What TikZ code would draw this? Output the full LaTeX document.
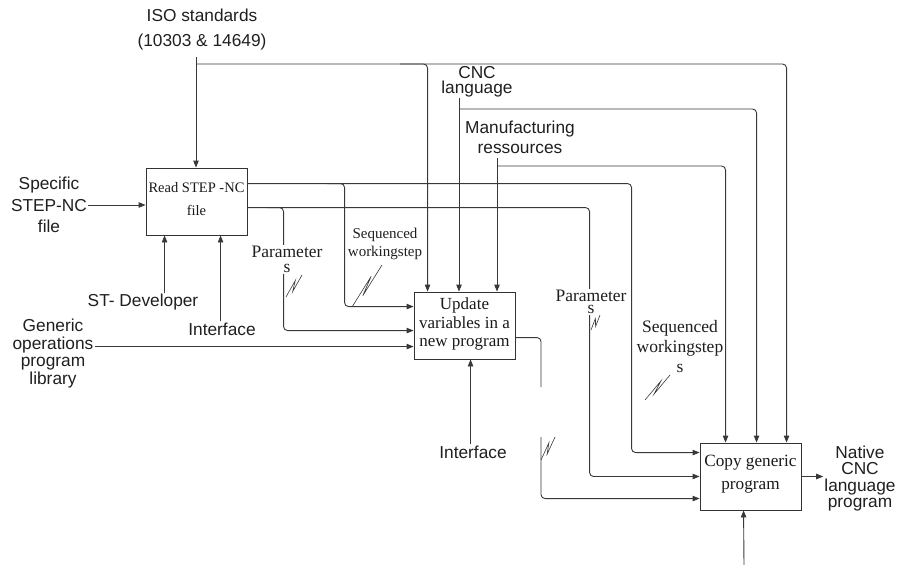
\documentclass[tikz,border=0pt]{standalone}
\usepackage{fontspec}
\setmainfont{Liberation Sans}
\newfontfamily\seriffam{Liberation Serif}
\usetikzlibrary{arrows.meta,calc}
\newcommand{\myzz}[4]{%
  \coordinate (zA) at (#1,#2);
  \coordinate (zB) at (#3,#4);
  \draw[wire, line width=0.6pt] (zA) -- ($(zA)!.7!(zB)!2.2pt!90:(zB)$) -- ($(zA)!.3!(zB)!2.2pt!-90:(zB)$) -- (zB);}
\newcommand{\lowdepth}[1]{\rule[-#1]{0pt}{0pt}}
\begin{document}
\begin{tikzpicture}[x=1pt,y=-1pt,
  wire/.style={draw=black!78, line width=0.9pt},
  arr/.style={wire, -{Triangle[length=7pt,width=5.5pt]}},
  conn/.style={arr, rounded corners=4pt},
  box/.style={draw=black!80, line width=0.9pt, rectangle, minimum width=101pt, minimum height=67pt, inner sep=0pt, align=center, text=black!90},
  sans/.style={align=center, inner sep=1pt, text=black!88, font=\fontsize{17.3}{#1}\selectfont},
  sans/.default=20,
  ser/.style={align=center, inner sep=1pt, text=black!88}
]
\path[use as bounding box] (0,0) rectangle (898,565);

% activity boxes
\node[box, font=\seriffam\fontsize{14.5}{23}\selectfont] (read) at (196.5,201.5) {Read STEP -NC\\file\lowdepth{6pt}};
\node[box, font=\seriffam\fontsize{17}{18.5}\selectfont] (upd) at (464.5,325.5) {Update\\variables in a\\new program\lowdepth{6pt}};
\node[box, font=\seriffam\fontsize{17.2}{23}\selectfont] (copy) at (750.5,476.5) {Copy generic\\program\lowdepth{9pt}};

% sans labels
\node[sans=25] (iso) at (202,29.5) {ISO standards\\(10303 \& 14649)};
\node[sans=15] (cnc) at (477,81.5) {CNC\\language};
\node[sans=20] (manu) at (520,137) {Manufacturing\\ressources};
\node[sans=21.5] (spec) at (49,205) {Specific\\STEP-NC\\file};
\node[sans] (stdev) at (143,302) {ST- Developer};
\node[sans] (intf1) at (222,329) {Interface};
\node[sans=17.7] (gen) at (53,353.5) {Generic\\operations\\program\\library};
\node[sans] (intf2) at (473,452) {Interface};
\node[sans=16.5] (native) at (860,478.5) {Native\\CNC\\language\\program};

% serif labels without background
\node[ser, font=\seriffam\fontsize{15}{18}\selectfont] (seq1) at (385,244) {Sequenced\\workingstep};
\node[ser, font=\seriffam\fontsize{17.5}{20}\selectfont] (seq2) at (680,347) {Sequenced\\workingstep\\s};

% input coordinates
\coordinate (ci1) at ([yshift=-10pt]copy.north west);
\coordinate (ci2) at (copy.west);
\coordinate (ci3) at ([yshift=-56pt]copy.north west);
\coordinate (ui1) at ([yshift=-15pt]upd.north west);
\coordinate (ui2) at ([yshift=-39pt]upd.north west);
\coordinate (ui3) at ([yshift=-55pt]upd.north west);
\coordinate (r1) at ([yshift=-16pt]read.north east);
\coordinate (r2) at ([yshift=-40pt]read.north east);
\coordinate (rb1) at ([xshift=19pt]read.south west);
\coordinate (rb2) at ([xshift=75pt]read.south west);
\coordinate (ub) at ([xshift=57pt]upd.south west);
\coordinate (cb) at ([xshift=44pt]copy.south west);
\coordinate (uo) at ([yshift=-46pt]upd.north east);

% ISO standards
\coordinate (isoA) at (196,57);
\coordinate (isoB) at (196,64);
\coordinate (isoC) at (400,64);
\draw[arr] (isoA) -- (isoA |- read.north);
\draw[conn] (isoB) -| ([xshift=87pt]copy.north west);
\draw[conn] (isoC) -| ([xshift=14pt]upd.north west);

% CNC language
\coordinate (cncA) at (459,98);
\coordinate (cncB) at (459,109);
\draw[arr] (cncA) -- (cncA |- upd.north);
\draw[conn] (cncB) -| ([xshift=57pt]copy.north west);

% Manufacturing ressources
\coordinate (manA) at (497,158);
\coordinate (manB) at (497,166);
\draw[arr] (manA) -- (manA |- upd.north);
\draw[conn] (manB) -| ([xshift=26pt]copy.north west);

% outputs of Read STEP-NC
\draw[conn] (r1) -| ([xshift=-68pt]ci1) -- (ci1);
\draw[conn] ([xshift=80pt]r1) -| ([xshift=-69pt]ui1) -- (ui1);
\draw[conn] (r2) -| ([xshift=-110pt]ci2) -- (ci2);
\draw[conn] ([xshift=20pt]r2) -| ([xshift=-130pt]ui2) -- (ui2);

% other inputs / mechanisms
\draw[arr] (spec.east) -- (spec.east -| read.west);
\draw[arr] (gen.east |- ui3) -- (ui3);
\draw[arr] (rb1 |- stdev.north) -- (rb1);
\draw[arr] (rb2 |- intf1.north) -- (rb2);
\draw[arr] (ub |- intf2.north) -- (ub);
\coordinate (cbot) at (744,565);
\draw[arr] (cbot) -- (cb);
\draw[arr] (copy.east) -- (copy.east -| native.west);

% output of Update (with break)
\coordinate (gapT) at (541,387);
\coordinate (gapB) at (541,437);
\draw[wire, rounded corners=4pt] (uo) -| (gapT);
\draw[conn] (gapB) |- (ci3);

% squiggles
\myzz{286}{297}{302}{275}
\myzz{352}{307}{382}{265}
\myzz{591}{330}{600}{315}
\myzz{645}{400}{670}{375}
\myzz{541}{460}{555}{437}

% labels over lines
\node[ser, fill=white, font=\seriffam\fontsize{17.5}{15}\selectfont] (par1) at (287,259.5) {Parameter\\s};
\node[ser, fill=white, font=\seriffam\fontsize{17.5}{12}\selectfont] (par2) at (591,302) {Parameter\\s};
\end{tikzpicture}
\end{document}
